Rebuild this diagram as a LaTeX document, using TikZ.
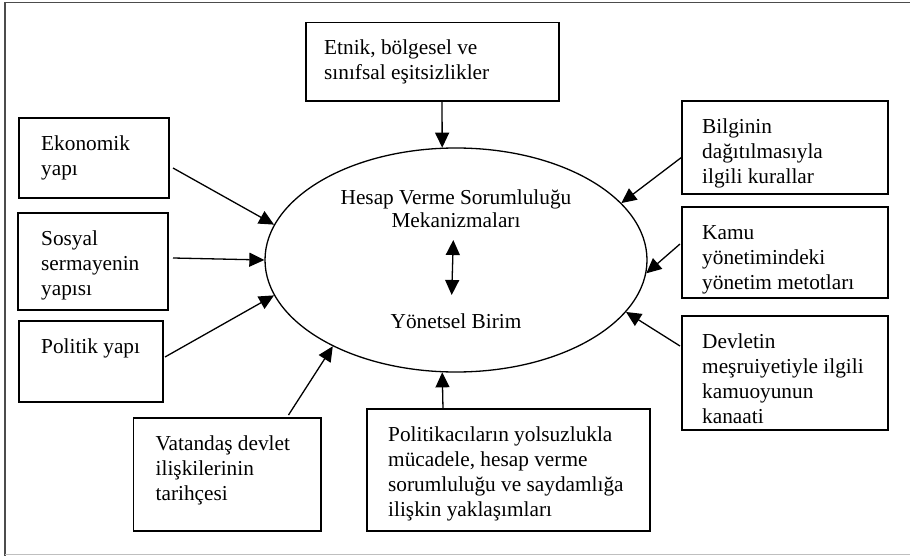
\documentclass[tikz,border=0pt]{standalone}
\usepackage{fontspec}
\setmainfont{Liberation Serif}
\usetikzlibrary{shapes.geometric,arrows.meta,calc}
\newcommand{\fs}{\fontsize{21.3}{25}\selectfont}
\newcommand{\fst}{\rule{0pt}{15pt}}
\tikzset{
  box/.style={draw, line width=1.8pt, inner sep=0pt, outer sep=0pt, anchor=north west},
  txt/.style={font=\fs, align=left, anchor=north west, inner sep=0pt},
  ctxt/.style={font=\fs, anchor=base, inner sep=0pt},
  arr/.style={line width=1.3pt, -{Triangle[length=15pt,width=14pt]}},
  darr/.style={line width=1.3pt, {Triangle[length=15pt,width=14pt]}-{Triangle[length=15pt,width=14pt]}}
}
\begin{document}
\begin{tikzpicture}[x=1pt,y=1pt]
\useasboundingbox (0,0) rectangle (910,-556);
% frame
\draw[black!70, line width=1.6pt] (5,-556) -- (5,-2.5) -- (910,-2.5);
\draw[black!25, line width=1.6pt] (5,-554.5) -- (910,-554.5);
% ellipse
\node[draw, ellipse, line width=1.3pt, minimum width=382pt, minimum height=224pt, inner sep=0pt] (ell) at (456,-260) {};
\node[ctxt] (hvs) at (456,-205) {Hesap Verme Sorumluluğu};
\node[ctxt] (mek) at (456,-228) {Mekanizmaları};
\node[ctxt] (yb) at (456,-328) {Yönetsel Birim};
\coordinate (da1) at (453.3,-240);
\coordinate (da2) at (451.7,-295);
\draw[darr] (da1) -- (da2);
% boxes
\node[box, minimum width=253pt, minimum height=78.5pt] (etnik) at (306,-22.5) {};
\node[box, minimum width=150pt, minimum height=80pt] (eko) at (19,-118) {};
\node[box, minimum width=150pt, minimum height=97pt] (sos) at (18,-213) {};
\node[box, minimum width=144pt, minimum height=81pt] (pol) at (19,-321) {};
\node[box, minimum width=187.5pt, minimum height=113pt] (vat) at (133.5,-418) {};
\node[box, minimum width=283pt, minimum height=122pt] (polk) at (367,-409) {};
\node[box, minimum width=206pt, minimum height=93pt] (bil) at (682,-101) {};
\node[box, minimum width=206pt, minimum height=91pt] (kamu) at (682,-207) {};
\node[box, minimum width=206pt, minimum height=114pt] (dev) at (682,-316) {};
% texts
\node[txt] (etnikT) at ($(etnik.north west)+(18,-17)$) {\fst Etnik, bölgesel ve\\sınıfsal eşitsizlikler};
\node[txt] (ekoT) at ($(eko.north west)+(22,-17)$) {\fst Ekonomik\\yapı};
\node[txt] (sosT) at ($(sos.north west)+(23,-17)$) {\fst Sosyal\\sermayenin\\yapısı};
\node[txt] (polT) at ($(pol.north west)+(22,-17)$) {\fst Politik yapı};
\node[txt] (vatT) at ($(vat.north west)+(22,-17)$) {\fst Vatandaş devlet\\ilişkilerinin\\tarihçesi};
\node[txt] (polkT) at ($(polk.north west)+(21,-17)$) {\fst Politikacıların yolsuzlukla\\mücadele, hesap verme\\sorumluluğu ve saydamlığa\\ilişkin yaklaşımları};
\node[txt] (bilT) at ($(bil.north west)+(20,-17)$) {\fst Bilginin\\dağıtılmasıyla\\ilgili kurallar};
\node[txt] (kamuT) at ($(kamu.north west)+(20,-17)$) {\fst Kamu\\yönetimindeki\\yönetim metotları};
\node[txt] (devT) at ($(dev.north west)+(20,-17)$) {\fst Devletin\\meşruiyetiyle ilgili\\kamuoyunun\\kanaati};
% arrows
\draw[arr] ($(etnik.south west)+(136,0)$) -- (ell.97);
\draw[arr] ($(eko.east)+(4,-10)$) -- (ell.169);
\draw[arr] ($(sos.east)+(5,3.5)$) -- (ell.180);
\draw[arr] ($(pol.east)+(2,4.5)$) -- (ell.191.7);
\draw[arr] ($(vat.north west)+(155,3)$) -- (ell.215);
\draw[arr] ($(polk.north west)+(76,0)$) -- (ell.263.3);
\draw[arr] ($(dev.north west)+(-2,-30)$) -- (ell.343);
\draw[arr] ($(kamu.north west)+(-2,-37)$) -- (ell.356.4);
\draw[arr] ($(bil.north west)+(0,-56)$) -- (ell.19.2);
\end{tikzpicture}
\end{document}
